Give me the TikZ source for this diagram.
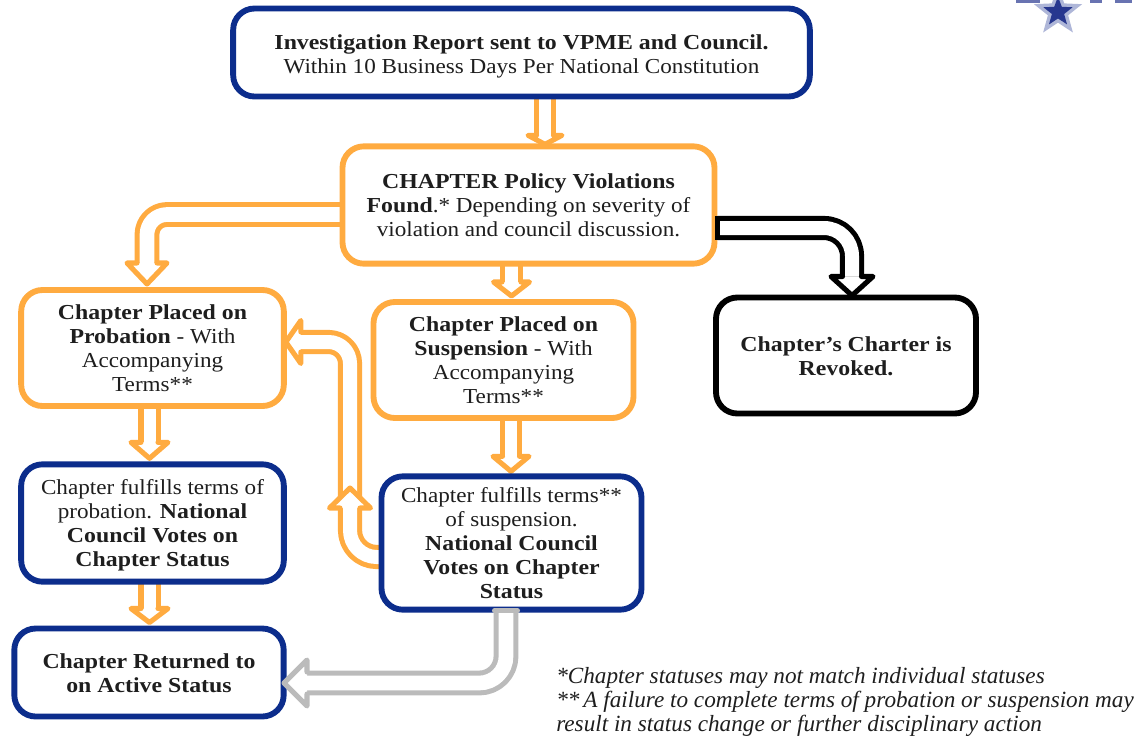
\documentclass[tikz,border=0pt]{standalone}
\usepackage{fontspec}
\setmainfont[FakeStretch=1.084,BoldFeatures={FakeStretch=1.116}]{Liberation Serif}
\newfontfamily\notefont{Liberation Serif}
\usetikzlibrary{calc,shapes.geometric}
\definecolor{cOr}{HTML}{FFAB40}
\definecolor{cBl}{HTML}{0C2D8C}
\definecolor{cGr}{HTML}{BBBBBB}
\definecolor{cTx}{HTML}{1E1E1E}
\definecolor{cStarA}{HTML}{AEB6D8}
\definecolor{cStarB}{HTML}{27378F}
\pgfdeclarelayer{bg}
\pgfsetlayers{bg,main}
\tikzset{
  flowbox/.style={draw,fill=white,line width=4.4pt,rounded corners=16pt,outer sep=0pt,inner sep=0pt,
    align=center,text=cTx,font=\fontsize{16pt}{18pt}\selectfont},
  orbox/.style={flowbox,draw=cOr},
  blbox/.style={flowbox,draw=cBl},
  bkbox/.style={flowbox,draw=black},
  shaft/.style={double=white,line width=3.8pt,line cap=butt,line join=round},
  notes/.style={align=left,anchor=north west,inner sep=0pt,text=cTx,font=\notefont\itshape\fontsize{17.4pt}{18pt}\selectfont},
}
% strut for the first line of a box: a taller line moves the block of text down
\newcommand{\dn}[1]{\rule{0pt}{#1pt}}
% base, tip, colour, shaft half-gap, wing half-width
\newcommand{\hhead}[5]{%
  \filldraw[fill=white,draw=#3,line width=3.8pt,line join=round,line cap=round]
    ($(#1)!#4*0.75pt!90:(#2)$) -- ($(#1)!#5*0.75pt!90:(#2)$) -- (#2)
    -- ($(#1)!#5*0.75pt!-90:(#2)$) -- ($(#1)!#4*0.75pt!-90:(#2)$);}
\begin{document}
\begin{tikzpicture}[x=0.75pt,y=-0.75pt]
\useasboundingbox (0,0) rectangle (1148,740);
% logo fragment, cut by the top edge
\begin{scope}
  \clip (0,0) rectangle (1148,740);
  \fill[cStarB!70] (1016,0) rectangle (1040,3);
  \fill[cStarB!70] (1090,0) rectangle (1102,3);
  \fill[cStarB!70] (1115,0) rectangle (1132,3);
  \node[star,star points=5,star point ratio=2.38,fill=cStarA,minimum size=38pt,inner sep=0pt,draw=none] (starA) at (1058,12) {};
  \node[star,star points=5,star point ratio=2.38,fill=cStarB,minimum size=23pt,inner sep=0pt,draw=none] (starB) at (1058,12) {};
\end{scope}
% boxes
\node[blbox,minimum width=432.5pt,minimum height=66pt] (report) at (521.5,52.5)
  {\dn{16.2}\textbf{Investigation Report sent to VPME and Council.}\\Within 10 Business Days Per National Constitution};
\node[orbox,minimum width=279pt,minimum height=88pt] (found) at (528.5,205)
  {\dn{11.8}\textbf{CHAPTER Policy Violations}\\\textbf{Found}.* Depending on severity of\\violation and council discussion.};
\node[orbox,minimum width=197pt,minimum height=87pt] (prob) at (152.5,348)
  {\dn{11.8}\textbf{Chapter Placed on}\\\textbf{Probation} - With\\Accompanying\\Terms**};
\node[orbox,minimum width=195pt,minimum height=87pt] (susp) at (503.5,360)
  {\dn{11.8}\textbf{Chapter Placed on}\\\textbf{Suspension} - With\\Accompanying\\Terms**};
\node[bkbox,minimum width=195pt,minimum height=87pt] (revoked) at (846,355.5)
  {\dn{12.5}\textbf{Chapter’s Charter is}\\\textbf{Revoked.}};
\node[blbox,minimum width=197pt,minimum height=88pt] (fulprob) at (152.5,523)
  {\dn{14}Chapter fulfills terms of\\probation. \textbf{National}\\\textbf{Council Votes on}\\\textbf{Chapter Status}};
\node[blbox,minimum width=195pt,minimum height=100pt] (fulsusp) at (511.5,543)
  {Chapter fulfills terms**\\of suspension.\\\textbf{National Council}\\\textbf{Votes on Chapter}\\\textbf{Status}};
\node[blbox,minimum width=202pt,minimum height=66pt] (active) at (149,672.5)
  {\dn{12.5}\textbf{Chapter Returned to}\\\textbf{on Active Status}};
\node[notes] (note) at (556,667)
  {*Chapter statuses may not match individual statuses\\**\,A failure to complete terms of probation or suspension may\\result in status change or further disciplinary action};
% anchors of the connectors
\coordinate (r1) at ($(report.south)+(23.5,0)$);
\coordinate (r1b) at ($(found.north)+(16.5,-11)$);
\coordinate (r1t) at ($(found.north)+(16.5,-2)$);
\coordinate (l1) at ($(found.west)+(0,9.5)$);
\coordinate (l1b) at ($(prob.north)+(-5.5,-27)$);
\coordinate (l1t) at ($(prob.north)+(-5.5,-6)$);
\coordinate (m1) at ($(found.south)+(-17,0)$);
\coordinate (m1b) at ($(susp.north)+(8,-20)$);
\coordinate (m1t) at ($(susp.north)+(8,-6)$);
\coordinate (k1) at ($(found.east)+(3,23)$);
\coordinate (k1b) at ($(revoked.north)+(6,-21)$);
\coordinate (k1t) at ($(revoked.north)+(6,-2)$);
\coordinate (p1) at ($(prob.south)+(-3,0)$);
\coordinate (p1b) at ($(fulprob.north)+(-3,-22)$);
\coordinate (p1t) at ($(fulprob.north)+(-3,-6)$);
\coordinate (p2) at ($(fulprob.south)+(-3,0)$);
\coordinate (p2b) at ($(active.north)+(0.5,-20)$);
\coordinate (p2t) at ($(active.north)+(0.5,-6)$);
\coordinate (s1) at ($(susp.south)+(7.5,0)$);
\coordinate (s1b) at ($(fulsusp.north)+(-0.5,-20)$);
\coordinate (s1t) at ($(fulsusp.north)+(-0.5,-5)$);
\coordinate (u1) at ($(fulsusp.west)+(0,14)$);
\coordinate (u1b) at (350,508);
\coordinate (u1t) at (350,488);
\coordinate (u2) at (350,500);
\coordinate (u2b) at ($(prob.east)+(17,-6)$);
\coordinate (u2t) at ($(prob.east)+(2,-6)$);
\coordinate (g1) at ($(fulsusp.south)+(-5.5,0)$);
\coordinate (g1b) at (307,683);
\coordinate (g1t) at (284,683);
% orange connectors behind the boxes
\begin{pgfonlayer}{bg}
  \draw[shaft,cOr,double distance=9pt] (r1) -- (r1b);
  \hhead{r1b}{r1t}{cOr}{8.5}{17}
  \draw[shaft,cOr,double distance=11pt,rounded corners=15pt] (l1) -| (l1b);
  \hhead{l1b}{l1t}{cOr}{10}{20}
  \draw[shaft,cOr,double distance=10pt] (m1) -- (m1b);
  \hhead{m1b}{m1t}{cOr}{9.5}{18}
  \draw[shaft,cOr,double distance=9pt] (p1) -- (p1b);
  \hhead{p1b}{p1t}{cOr}{8.5}{18.5}
  \draw[shaft,cOr,double distance=9pt] (p2) -- (p2b);
  \hhead{p2b}{p2t}{cOr}{8.5}{18.5}
  \draw[shaft,cOr,double distance=9pt] (s1) -- (s1b);
  \hhead{s1b}{s1t}{cOr}{8.5}{18}
  \draw[shaft,cOr,double distance=10.5pt,rounded corners=16pt] (u2) |- (u2b);
  \hhead{u2b}{u2t}{cOr}{10}{21.5}
  \draw[shaft,cOr,double distance=10.5pt,rounded corners=20pt] (u1) -| (u1b);
  \hhead{u1b}{u1t}{cOr}{10}{20.5}
\end{pgfonlayer}
% black and grey connectors on top
\draw[shaft,black,double distance=10.5pt,rounded corners=21pt] (k1) -| (k1b);
\draw[black,line width=3.8pt] ($(k1)+(0,-12)$) -- ($(k1)+(0,12)$);
\hhead{k1b}{k1t}{black}{9.5}{21}
\draw[shaft,cGr,double distance=11pt,rounded corners=20pt] (g1) |- (g1b);
\draw[cGr,line width=3.8pt,line cap=round] ($(g1)+(-11.5,1)$) -- ($(g1)+(11.5,1)$);
\hhead{g1b}{g1t}{cGr}{11}{23}
\end{tikzpicture}
\end{document}
